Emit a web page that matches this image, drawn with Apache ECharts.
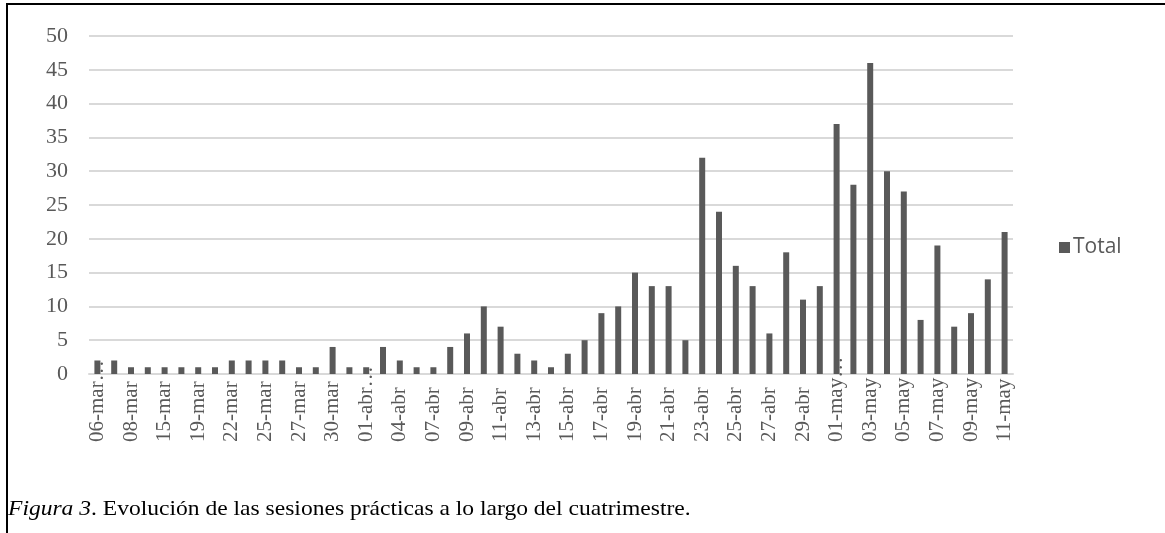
<!DOCTYPE html>
<html>
<head>
<meta charset="utf-8">
<script src="https://cdn.jsdelivr.net/npm/echarts@6/dist/echarts.min.js"></script>
<style>
  html, body { margin: 0; padding: 0; background: #fff; }
  #wrap { position: relative; width: 1165px; height: 533px; overflow: hidden; }
  #frame { position: absolute; left: 6px; top: 3px; width: 2000px; height: 2000px;
           border-top: 2px solid #000; border-left: 2px solid #000; box-sizing: border-box; }
  #chart { position: absolute; left: 0; top: 0; width: 1165px; height: 533px; }
</style>
</head>
<body>
<div id="wrap">
  <div id="frame"></div>
  <div id="chart"></div>
</div>
<script>
// Session dates (category axis)
const fechas = [
  '06-mar…', '07-mar', '08-mar', '13-mar', '15-mar', '18-mar', '19-mar', '21-mar',
  '22-mar', '24-mar', '25-mar', '26-mar', '27-mar', '29-mar', '30-mar', '31-mar',
  '01-abr…', '03-abr', '04-abr', '06-abr', '07-abr', '08-abr', '09-abr', '10-abr',
  '11-abr', '12-abr', '13-abr', '14-abr', '15-abr', '16-abr', '17-abr', '18-abr',
  '19-abr', '20-abr', '21-abr', '22-abr', '23-abr', '24-abr', '25-abr', '26-abr',
  '27-abr', '28-abr', '29-abr', '30-abr', '01-may…', '02-may', '03-may', '04-may',
  '05-may', '06-may', '07-may', '08-may', '09-may', '10-may', '11-may'
];

// Number of practical sessions per day
const total = [
  2, 2, 1, 1, 1, 1, 1, 1,
  2, 2, 2, 2, 1, 1, 4, 1,
  1, 4, 2, 1, 1, 4, 6, 10,
  7, 3, 2, 1, 3, 5, 9, 10,
  15, 13, 13, 5, 32, 24, 16, 13,
  6, 18, 11, 13, 37, 28, 46, 30,
  27, 8, 19, 7, 9, 14, 21
];

const serieNombre = 'Total';
const pieFigura = 'Figura 3';
const pieTexto = '. Evolución de las sesiones prácticas a lo largo del cuatrimestre.';

const chart = echarts.init(document.getElementById('chart'), null, { renderer: 'canvas' });

chart.setOption({
  animation: false,
  backgroundColor: 'transparent',
  grid: { left: 89, right: 152, top: 36, bottom: 159, containLabel: false },
  graphic: [{
    type: 'text',
    x: 8,
    y: 498,
    scaleX: 1.07,
    style: {
      text: '{i|' + pieFigura + '}{n|' + pieTexto + '}',
      rich: {
        i: { fontFamily: 'Liberation Serif', fontStyle: 'italic', fontWeight: 'normal', fontSize: 22, fill: '#000' },
        n: { fontFamily: 'Liberation Serif', fontWeight: 'normal', fontSize: 22, fill: '#000' }
      }
    }
  }],
  legend: {
    data: [serieNombre],
    left: 1054,
    top: 232,
    icon: 'rect',
    itemWidth: 11,
    itemHeight: 11,
    itemGap: 4,
    textStyle: { fontFamily: 'Open Sans', fontSize: 21, color: '#595959', padding: [0, 0, 0, -2] }
  },
  xAxis: {
    type: 'category',
    data: fechas,
    axisLine: { lineStyle: { color: '#d9d9d9', width: 2 } },
    axisTick: { show: false },
    axisLabel: {
      interval: 1,
      rotate: 90,
      align: 'left',
      verticalAlign: 'middle',
      margin: 68,
      fontFamily: 'Liberation Serif',
      fontSize: 21,
      color: '#595959'
    }
  },
  yAxis: {
    type: 'value',
    min: 0,
    max: 50,
    interval: 5,
    axisLine: { show: false },
    axisTick: { show: false },
    splitLine: { lineStyle: { color: '#d9d9d9', width: 2 } },
    axisLabel: {
      margin: 21,
      fontFamily: 'Liberation Serif',
      fontSize: 22,
      color: '#595959'
    }
  },
  series: [{
    name: serieNombre,
    type: 'bar',
    data: total,
    barWidth: 6,
    itemStyle: { color: '#595959' }
  }]
});
</script>
</body>
</html>
